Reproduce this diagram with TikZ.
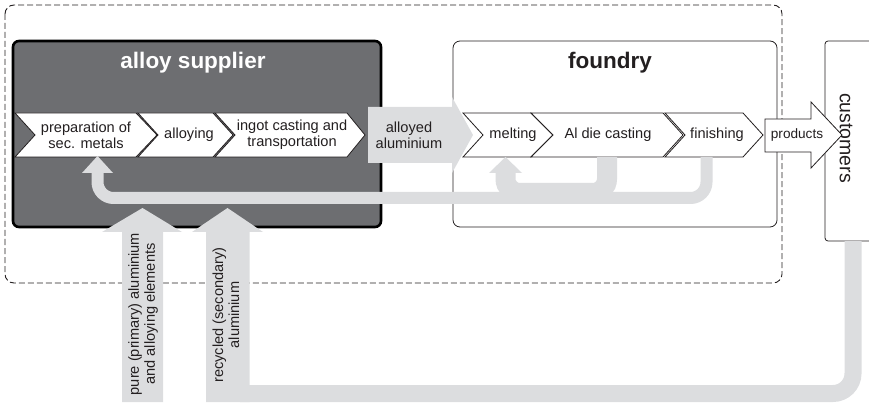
\documentclass[tikz,border=0pt]{standalone}
\usepackage{fontspec}
\setmainfont{Liberation Sans}
\definecolor{darkbox}{HTML}{6D6E71}
\definecolor{lightflow}{HTML}{DCDDDF}
\definecolor{inkc}{HTML}{231F20}
\newcommand{\chevshape}[4]{% L, notch, shoulder, tip
  \draw[chevline] (#1,113) -- (#3,113) -- (#4,135) -- (#3,157) -- (#1,157) -- (#2,135) -- cycle;}
\begin{document}
\begin{tikzpicture}[x=1pt,y=-1pt,
  chevline/.style={draw=inkc,line width=0.8pt,fill=white,line join=miter},
  steptext/.style={text=inkc,font=\fontsize{14.6}{16}\selectfont,align=center,inner sep=0pt},
  titletext/.style={font=\fontsize{22.5}{26}\selectfont\bfseries,inner sep=0pt},
  flowline/.style={draw=lightflow,line cap=butt},
  flowfill/.style={fill=lightflow,draw=none}]
\useasboundingbox (0,0) rectangle (869,403);
% outer dashed system boundary
\draw[inkc,line width=0.9pt,dash pattern=on 6pt off 3pt,rounded corners=9pt] (5,5) rectangle (782,283);
% alloy supplier box
\draw[black,line width=2.6pt,fill=darkbox,rounded corners=6pt] (13,41) rectangle (381,227);
\node[titletext,text=white] (sup) at (193,63) {alloy supplier};
% foundry box
\draw[inkc,line width=0.8pt,fill=white,rounded corners=7pt] (453,41) rectangle (777,227);
\node[titletext,text=inkc] (fou) at (610,63) {foundry};
% customers box
\begin{scope}
\clip (0,0) rectangle (869,403);
\draw[inkc,line width=0.8pt,fill=white,rounded corners=3pt] (880,41) -- (825,41) -- (825,241) -- (880,241);
\end{scope}
\node[rotate=-90,text=inkc,font=\fontsize{19.5}{22}\selectfont,inner sep=0pt] (cust) at (846,138) {customers};
% chevrons of the alloy supplier
\chevshape{15}{35}{136}{157}
\chevshape{138}{158}{213}{233}
\chevshape{215}{235}{347}{365}
\node[steptext] (prep) at (86,135) {preparation of\\sec. metals};
\node[steptext] (allo) at (189,135) {alloying};
\node[steptext] (ingot) at (292,135) {ingot casting and\\transportation};
% chevrons of the foundry
\chevshape{463}{483}{531}{553}
\chevshape{531}{553}{663}{683}
\chevshape{665}{685}{743}{763}
\node[steptext] (melt) at (513,135) {melting};
\node[steptext] (die) at (608,135) {Al die casting};
\node[steptext] (fin) at (717,135) {finishing};
% internal recycling loops
\coordinate (finout) at (706.5,157);
\coordinate (dieout) at (607,157);
\coordinate (meltin) at (505.5,157);
\coordinate (prepin) at (97.5,156);
\draw[flowline,line width=12pt,rounded corners=16pt] (finout) -- (706.5,198) -- (97.5,198) -- (97.5,172);
\path[flowfill] (82,173) -- (113,173) -- (prepin) -- cycle;
\draw[flowline,line width=20pt,rounded corners=14pt] (dieout) -- (607,193) -- (505.5,193) -- (505.5,172);
\path[flowfill] (489,173) -- (522,173) -- (meltin) -- cycle;
% alloyed aluminium flow
\path[flowfill] (368,107) -- (452,107) -- (452,97) -- (473,135) -- (452,173) -- (452,163) -- (368,163) -- cycle;
\node[steptext] (alal) at (409,135) {alloyed\\aluminium};
% products arrow
\draw[chevline] (765,119) -- (811,119) -- (811,102) -- (842,135) -- (811,168) -- (811,152) -- (765,152) -- cycle;
\node[text=inkc,font=\fontsize{13.6}{16}\selectfont,inner sep=0pt] (prod) at (797,135) {products};
% return loop from customers
\coordinate (custout) at (853,241);
\draw[flowline,line width=17pt,rounded corners=20pt] (custout) -- (853,393.5) -- (240,393.5);
% recycled (secondary) aluminium input
\path[flowfill] (206,402) -- (206,232) -- (192,232) -- (227.5,208) -- (263,232) -- (249.5,232) -- (249.5,402) -- cycle;
\node[steptext,rotate=90] (rec) at (226,315) {recycled (secondary)\\aluminium};
% pure (primary) aluminium input
\path[flowfill] (122,402) -- (122,232) -- (102,232) -- (142.5,208) -- (182,232) -- (163,232) -- (163,402) -- cycle;
\node[steptext,rotate=90] (prim) at (143,314) {pure (primary) aluminium\\and alloying elements};
\end{tikzpicture}
\end{document}
